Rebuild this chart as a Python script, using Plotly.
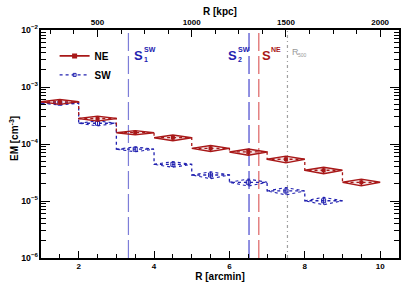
import plotly.graph_objects as go

# ---------------- data ----------------
ne_lo = [1, 2, 3, 4, 5, 6, 7, 8, 9]
ne_hi = [2, 3, 4, 5, 6, 7, 8, 9, 10]
ne_em = [5.5e-4, 2.8e-4, 1.58e-4, 1.29e-4, 8.4e-5, 7.25e-5, 5.4e-5, 3.46e-5, 2.13e-5]
ne_err = [5.4e-5, 2.8e-5, 1.35e-5, 1.5e-5, 1.0e-5, 9.0e-6, 7.3e-6, 4.5e-6, 2.9e-6]

sw_lo = [1, 2, 3, 4, 5, 6, 7, 8]
sw_hi = [2, 3, 4, 5, 6, 7, 8, 9]
sw_em = [5.2e-4, 2.31e-4, 8.1e-5, 4.4e-5, 2.86e-5, 2.13e-5, 1.5e-5, 1.01e-5]
sw_err = [3.6e-5, 2.3e-5, 8.0e-6, 5.0e-6, 4.0e-6, 3.0e-6, 2.2e-6, 1.5e-6]

s1_sw = 3.32
s2_sw = 6.52
s_ne = 6.78
r500 = 7.54

kpc_per_arcmin = 200.0
x_range = [1.0, 10.5]

NE_COL = "#a81818"
SW_COL = "#2222b0"
FONT = "Liberation Sans"


def step_xy(lo, hi, y):
    xs = list(lo) + [hi[-1]]
    ys = list(y) + [y[-1]]
    return xs, ys


def diamonds(lo, hi, y, e):
    xs, ys = [], []
    for a, b, v, d in zip(lo, hi, y, e):
        c = 0.5 * (a + b)
        xs += [a, c, b, c, a, None]
        ys += [v, v + d, v, v - d, v, None]
    return xs, ys


def centers(lo, hi):
    return [0.5 * (a + b) for a, b in zip(lo, hi)]


fig = go.Figure()

# vertical reference lines
for xv, col, dash in [(s1_sw, "rgba(70,70,200,0.7)", "18px,5px"),
                      (s2_sw, "rgba(50,50,200,0.9)", "18px,5px"),
                      (s_ne, "rgba(215,70,70,0.85)", "18px,5px"),
                      (r500, "rgba(150,150,150,0.9)", "3px,3px,1px,3px")]:
    fig.add_vline(x=xv, line=dict(color=col, width=1.2, dash=dash), layer="below")

# SW step line
sx, sy = step_xy(sw_lo, sw_hi, sw_em)
fig.add_trace(go.Scatter(x=sx, y=sy, mode="lines", line_shape="hv",
                         line=dict(color=SW_COL, width=1.3, dash="dot"),
                         showlegend=False, hoverinfo="skip"))
dx, dy = diamonds(sw_lo, sw_hi, sw_em, sw_err)
fig.add_trace(go.Scatter(x=dx, y=dy, mode="lines",
                         line=dict(color=SW_COL, width=1.1, dash="dot"),
                         showlegend=False, hoverinfo="skip"))
fig.add_trace(go.Scatter(x=centers(sw_lo, sw_hi), y=sw_em, mode="markers",
                         marker=dict(symbol="square-open", size=4, color=SW_COL, line=dict(width=1)),
                         error_y=dict(type="data", array=sw_err, color=SW_COL, width=0, thickness=1),
                         showlegend=False, hoverinfo="skip"))

# NE step line
nx, ny = step_xy(ne_lo, ne_hi, ne_em)
fig.add_trace(go.Scatter(x=nx, y=ny, mode="lines", line_shape="hv",
                         line=dict(color=NE_COL, width=1.3, dash="dot"),
                         showlegend=False, hoverinfo="skip"))
dx, dy = diamonds(ne_lo, ne_hi, ne_em, ne_err)
fig.add_trace(go.Scatter(x=dx, y=dy, mode="lines", fill="toself",
                         fillcolor="rgba(168,24,24,0.12)",
                         line=dict(color=NE_COL, width=1.4),
                         showlegend=False, hoverinfo="skip"))
fig.add_trace(go.Scatter(x=centers(ne_lo, ne_hi), y=ne_em, mode="markers",
                         marker=dict(symbol="square", size=4, color=NE_COL),
                         error_y=dict(type="data", array=ne_err, color=NE_COL, width=0, thickness=1.5),
                         showlegend=False, hoverinfo="skip"))

# legend entries
fig.add_trace(go.Scatter(x=[None], y=[None], mode="lines+markers", name="NE",
                         line=dict(color=NE_COL, width=1.6),
                         marker=dict(symbol="square", size=5, color=NE_COL)))
fig.add_trace(go.Scatter(x=[None], y=[None], mode="lines+markers", name="SW",
                         line=dict(color=SW_COL, width=1.3, dash="dot"),
                         marker=dict(symbol="square-open", size=3, color=SW_COL)))

# top axis anchor trace
fig.add_trace(go.Scatter(x=[None], y=[None], xaxis="x2", showlegend=False, hoverinfo="skip"))

# labels for the lines
def lab(x, text, color, size, xshift, ypx):
    fig.add_annotation(x=x, xref="x", y=1 - (ypx - 30) / 228.0, yref="paper",
                       text=text, showarrow=False, xanchor="left", yanchor="middle",
                       xshift=xshift, font=dict(family=FONT, size=size, color=color, weight="bold"))

lab(s1_sw, "S", SW_COL, 13, 4, 55)
lab(s1_sw, "SW", SW_COL, 7, 14, 49)
lab(s1_sw, "1", SW_COL, 7, 14, 59)
lab(s2_sw, "S", SW_COL, 13, -23, 55)
lab(s2_sw, "SW", SW_COL, 7, -13, 49)
lab(s2_sw, "2", SW_COL, 7, -13, 59)
lab(s_ne, "S", NE_COL, 13, 1, 55)
lab(s_ne, "NE", NE_COL, 7, 10, 49)
fig.add_annotation(x=r500, xref="x", y=1 - (52 - 30) / 228.0, yref="paper",
                   text="R", showarrow=False, xanchor="left", yanchor="middle", xshift=3,
                   font=dict(family=FONT, size=9, color="#999999"))
fig.add_annotation(x=r500, xref="x", y=1 - (55 - 30) / 228.0, yref="paper",
                   text="500", showarrow=False, xanchor="left", yanchor="middle", xshift=9,
                   font=dict(family=FONT, size=5, color="#999999"))

tickfont = dict(family=FONT, size=8, color="black", weight="bold")
ytickfont = dict(family=FONT, size=7, color="black", weight="bold")
titlefont = dict(family=FONT, size=10, color="black", weight="bold")

# axis titles placed as annotations for precise positions
fig.add_annotation(x=-27 / 358.0, xref="paper", y=(258 - 139) / 228.0, yref="paper",
                   text="EM [cm<sup>-3</sup>]", textangle=-90, showarrow=False,
                   xanchor="center", yanchor="middle", font=titlefont)
fig.add_annotation(x=0.5, xref="paper", y=1 + (30 - 12) / 228.0, yref="paper",
                   text="R [kpc]", showarrow=False, xanchor="center", yanchor="middle",
                   font=titlefont)

fig.update_layout(
    width=407, height=287,
    margin=dict(l=41, r=8, t=30, b=29, autoexpand=False),
    paper_bgcolor="white", plot_bgcolor="white",
    font=dict(family=FONT),
    showlegend=True,
    legend=dict(x=0.038, y=0.95, xanchor="left", yanchor="top",
                bgcolor="rgba(0,0,0,0)", font=dict(family=FONT, size=10, color="black", weight="bold"),
                tracegroupgap=0, itemwidth=30),
    xaxis=dict(range=x_range, showgrid=False, zeroline=False, showline=True, automargin=False,
               linecolor="black", linewidth=1.5, ticks="inside", ticklen=7, tickwidth=1.2,
               tickcolor="black", tick0=0, dtick=2, tickfont=tickfont, ticklabelstandoff=0,
               minor=dict(dtick=0.5, ticks="inside", ticklen=4, tickcolor="black", tickwidth=1),
               title=dict(text="R [arcmin]", font=titlefont, standoff=0)),
    xaxis2=dict(range=[x_range[0] * kpc_per_arcmin, x_range[1] * kpc_per_arcmin],
                overlaying="x", side="top", anchor="y", showgrid=False, zeroline=False,
                automargin=False,
                showline=True, linecolor="black", linewidth=1.5, ticks="inside", ticklen=7,
                tickwidth=1.2, tickcolor="black", tick0=0, dtick=500, tickfont=tickfont,
                minor=dict(dtick=125, ticks="inside", ticklen=4, tickcolor="black", tickwidth=1)),
    yaxis=dict(type="log", range=[-6, -2], showgrid=False, zeroline=False, showline=True,
               automargin=False, ticklabelstandoff=0,
               linecolor="black", linewidth=1.5, mirror="ticks", ticks="inside", ticklen=9,
               tickwidth=1.2, tickcolor="black", dtick=1, exponentformat="power",
               tickfont=ytickfont,
               minor=dict(dtick="D1", ticks="inside", ticklen=5, tickcolor="black", tickwidth=1)),
)

fig.write_html("out.html", config={"displayModeBar": False},
               post_script="document.body.style.margin='0';")
